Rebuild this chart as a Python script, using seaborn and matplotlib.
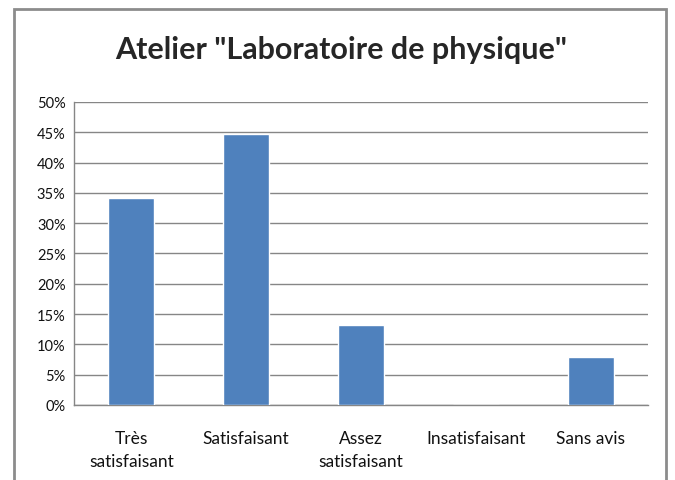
import matplotlib
matplotlib.use("Agg")
import matplotlib.pyplot as plt
import matplotlib.patches as mpatches
from matplotlib.ticker import PercentFormatter, MultipleLocator
import seaborn as sns
import pandas as pd

# données (38 réponses)
categories = ["Très\nsatisfaisant", "Satisfaisant", "Assez\nsatisfaisant", "Insatisfaisant", "Sans avis"]
valeurs = [34.2, 44.7, 13.2, 0.0, 7.9]
titre = 'Atelier "Laboratoire de physique"'

df = pd.DataFrame({"cat": categories, "val": valeurs})

sns.set_style("white")
plt.rcParams['font.family'] = ['Lato', 'DejaVu Sans']

fig = plt.figure(figsize=(6.75, 4.81), dpi=100)
ax = fig.add_axes([0.1096, 0.156, 0.8504, 0.630])

sns.barplot(data=df, x="cat", y="val", color="#4f81bd", width=0.40,
            saturation=1, ax=ax, zorder=3)

ax.set_ylim(0, 50)
ax.yaxis.set_major_locator(MultipleLocator(5))
ax.yaxis.set_major_formatter(PercentFormatter(decimals=0))
ax.set_xlim(-0.5, len(categories) - 0.5)
ax.grid(axis="y", color="#868686", linewidth=1, zorder=0)
ax.set_xlabel("")
ax.set_ylabel("")
for s in ["top", "right"]:
    ax.spines[s].set_visible(False)
for s in ["left", "bottom"]:
    ax.spines[s].set_color("#868686")
    ax.spines[s].set_linewidth(1)
ax.tick_params(axis="both", length=0, colors="#111111")
ax.tick_params(axis="y", pad=6, labelsize=10.5)
ax.tick_params(axis="x", pad=18, labelsize=12.5)
for lab in ax.get_xticklabels():
    lab.set_linespacing(1.55)

fig.suptitle(titre, x=0.505, y=0.925, fontsize=22, fontweight="bold")

# cadre du graphique
cadre = mpatches.Rectangle((14 / 675, -0.05), (666 - 14) / 675, 1.05 - 10 / 481,
                           transform=fig.transFigure, fill=False,
                           edgecolor="#8c8c8c", linewidth=2)
fig.patches.append(cadre)

fig.savefig("out.png", dpi=100)
